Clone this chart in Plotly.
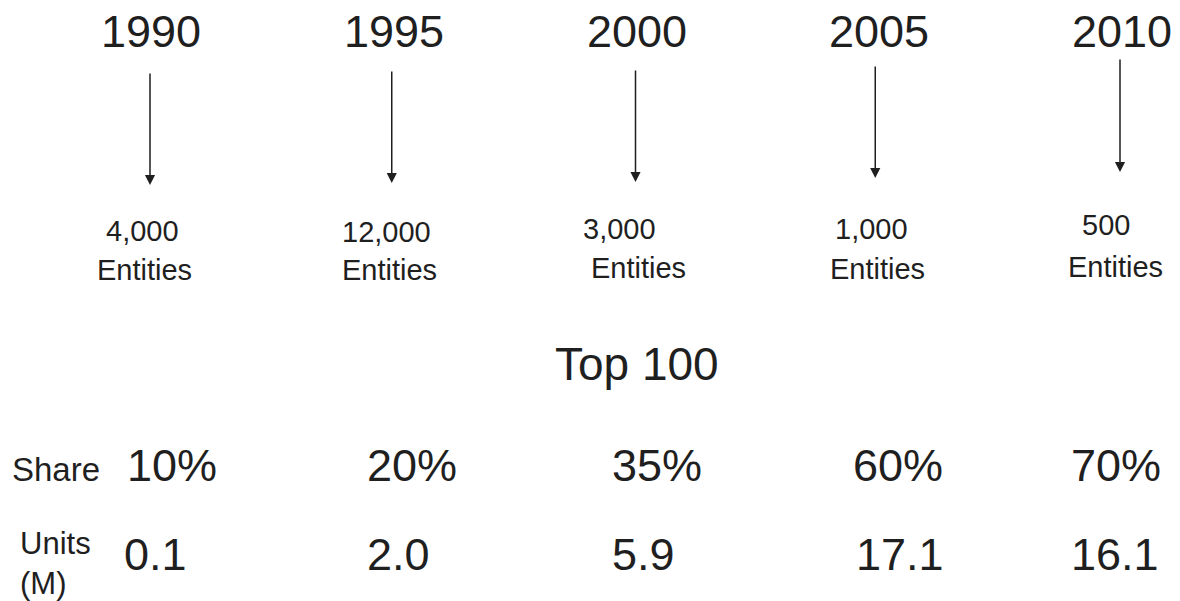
import plotly.graph_objects as go

# ---- data ----
years = ["1990", "1995", "2000", "2005", "2010"]
entities = ["4,000", "12,000", "3,000", "1,000", "500"]
entity_word = "Entities"
share = ["10%", "20%", "35%", "60%", "70%"]
units = ["0.1", "2.0", "5.9", "17.1", "16.1"]
group_title = "Top 100"
row_labels = ["Share", "Units<br>(M)"]

# ---- layout constants ----
# body margin is removed; axes are set so that data units == page pixels
FONT = "Liberation Sans, Arial, sans-serif"
INK = "#1f1f1f"
W, H = 1180, 601
x_first, x_step = 151, 242.75
x_range = [-x_first / x_step, (W - x_first) / x_step]

year_y = 31
arrow_top = [72, 70, 69, 65, 58]
arrow_bot = [185, 183, 182, 178, 172]
arrow_dx = [-1, -2, -1, -4, -2]
num_y = [231, 232, 229, 229, 225]
num_dx = [-9, -7, -17, -8, -16]
ent_y = [270, 270, 268, 269, 267]
ent_dx = [-7, -4, 2, -2, -7]
share_y = 465
share_dx = [-26, -29, -27, -28, -53]
units_y = 554
units_dx = [-29, -29, -27, -25, -53]

fig = go.Figure()

annotations = []
for i, yr in enumerate(years):
    annotations.append(dict(
        x=i, y=year_y, xref="x", yref="y", text=yr, showarrow=False,
        font=dict(family=FONT, size=45, color=INK)))
    annotations.append(dict(
        x=i, y=arrow_bot[i], ax=i, ay=arrow_top[i],
        xref="x", yref="y", axref="x", ayref="y", xshift=arrow_dx[i],
        text="", showarrow=True, arrowhead=2, arrowsize=1.35,
        arrowwidth=1.5, arrowcolor=INK, standoff=0, startstandoff=0))
    annotations.append(dict(
        x=i, y=num_y[i], xref="x", yref="y", text=entities[i], showarrow=False,
        xshift=num_dx[i], font=dict(family=FONT, size=29, color=INK)))
    annotations.append(dict(
        x=i, y=ent_y[i], xref="x", yref="y", text=entity_word, showarrow=False,
        xshift=ent_dx[i], font=dict(family=FONT, size=29, color=INK)))
    annotations.append(dict(
        x=i, y=share_y, xref="x", yref="y", text=share[i], showarrow=False,
        xanchor="left", xshift=share_dx[i],
        font=dict(family=FONT, size=45, color=INK)))
    annotations.append(dict(
        x=i, y=units_y, xref="x", yref="y", text=units[i], showarrow=False,
        xanchor="left", xshift=units_dx[i],
        font=dict(family=FONT, size=45, color=INK)))

annotations.append(dict(
    x=2, y=364, xref="x", yref="y", text=group_title, showarrow=False,
    font=dict(family=FONT, size=46, color=INK)))
annotations.append(dict(
    x=10 / W, y=469, xref="paper", yref="y", xanchor="left",
    text=row_labels[0], showarrow=False,
    font=dict(family=FONT, size=33, color=INK)))
annotations.append(dict(
    x=18 / W, y=563, xref="paper", yref="y", xanchor="left", align="left",
    text=row_labels[1], showarrow=False,
    font=dict(family=FONT, size=31, color=INK)))

# invisible anchor trace so the axes exist
fig.add_trace(go.Scatter(x=years, y=[None] * len(years), mode="markers",
                         hoverinfo="skip", showlegend=False))

fig.update_layout(
    width=W, height=H, margin=dict(l=0, r=0, t=0, b=0),
    paper_bgcolor="white", plot_bgcolor="white", showlegend=False,
    xaxis=dict(type="category", categoryorder="array", categoryarray=years,
               range=x_range, visible=False, fixedrange=True),
    yaxis=dict(range=[H, 0], visible=False, fixedrange=True),
    annotations=annotations,
)

fig.write_html("out.html", config={"displayModeBar": False},
               post_script="document.body.style.margin='0';"
                           "document.body.style.overflow='hidden';")
